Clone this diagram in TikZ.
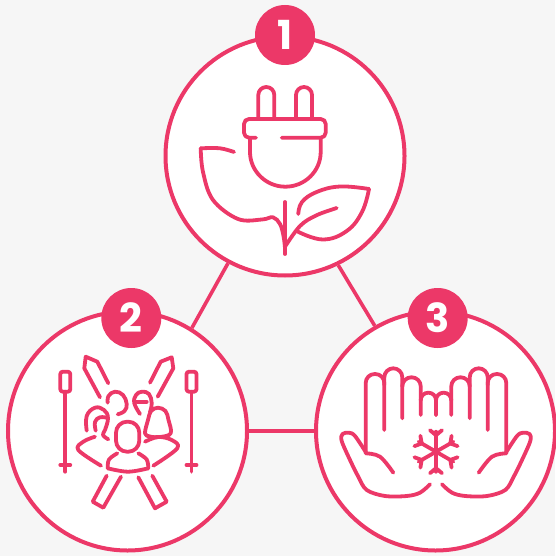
\documentclass[tikz,border=0pt]{standalone}
\usepackage{fontspec}
\newfontfamily\digitfont{Poppins}
\usepackage{tikz}
\definecolor{rosered}{HTML}{EC3868}
\definecolor{pagegray}{HTML}{F6F6F6}
\tikzset{bigdisc/.style = {circle, draw=rosered, fill=white, line width=4pt, minimum size=239pt, inner sep=0pt},
  badge/.style = {circle, fill=rosered, text=white, minimum size=60pt, inner sep=0pt, font=\digitfont\bfseries\fontsize{40}{40}\selectfont},
  link/.style = {draw=rosered, line width=3.6pt},
  icon/.style = {draw=rosered, line width=3.8pt, line cap=round, line join=round}}

\begin{document}
\begin{tikzpicture}[x=1pt, y=-1pt]
      \fill[pagegray] (0,0) rectangle (555,556);
      \useasboundingbox (0,0) rectangle (555,556);
      \node[bigdisc] (one) at (285,156) {};
      \node[bigdisc] (two) at (127.5,431) {};
      \node[bigdisc] (three) at (435.5,431) {};
      \path[link] (one.242) -- (two.58);
      \path[link] (one.296) -- (three.120);
      \path[link] (two.east) -- (three.west);
      \node[badge] (badgeone) at (285,35) {1};
      \node[badge] (badgetwo) at (131.3,318) {2};
      \node[badge] (badgethree) at (437.7,318) {3};
      % plug and leaf
      \begin{scope}[icon]
        \foreach \x in {258.3,296} {
          \draw[rounded corners=8pt] (\x,118) -- (\x,87) -- (\x+16,87) -- (\x+16,118);
        }
        \draw[rounded corners=5pt] (256,137.7) -- (244,137.7) -- (244,119) -- (325.7,119) -- (325.7,137.7) -- (281.7,137.7);
        \draw (250,138) -- (250,152) .. controls (250,171) and (266,186.7) .. (285.3,186.7) .. controls (305,186.7) and (320.7,171) .. (320.7,152) -- (320.7,138);
        \draw [smooth, tension=.6]
        plot coordinates{(234,152) (220,148.3) (200.7,148.3)};
        \draw [smooth, tension=.6]
        plot coordinates{(200.7,148.3) (203,172) (213,200) (238,219) (262,219.5) (273,217.3) (280,224) (283.5,236) (285,248)};
        \draw (285,202) -- (285,254);
        \draw [smooth, tension=.7]
        plot coordinates{(298.3,214) (302,202) (316.7,192) (340,186.5) (369,189)};
        \draw [smooth, tension=.7]
        plot coordinates{(369,189) (362,212) (346.7,231) (323,239.5) (298,231.7)};
        \draw [smooth, tension=.6]
        plot coordinates{(285,246.7) (300,226) (316,215.5) (336.7,208)};
      \end{scope}
      % skis and poles
      \begin{scope}[icon]
        \foreach \x in {65.3,191.5} {
          \draw[rounded corners=2.5pt] (\x-5,371.7) rectangle (\x+5,391.7);
          \draw (\x,391.7) -- (\x,471.7);
          \draw (\x-5,465) -- (\x+5,465);
        }
        \draw (108.3,383.3) -- (97.3,361.7) -- (85.7,356.7) -- (84.3,368.3) -- (100,397.3);
        \draw (150,382.7) -- (160.7,361.7) -- (171.7,357.3) -- (173.3,368.3) -- (157.7,396.7);
        \draw (106.7,475.7) -- (92.7,501.7) -- (103.3,507.7) -- (121,476.7);
        \draw (138.3,477.3) -- (155,508.3) -- (166.7,501.7) -- (152.3,475.7);
        % back row
        \draw [smooth, tension=.7]
        plot coordinates{(107.7,402.7) (108.5,396) (115,391.7) (123,395) (126.7,404) (124.5,411) (117.7,414.3)};
        \draw [smooth, tension=.7]
        plot coordinates{(140,414) (134.3,403.3) (136,395) (142,391.7) (149,394) (151.7,403) (150,412)};
        \draw (136.7,401.7) -- (146.7,401.7);
        % left woman
        \draw [smooth, tension=.7]
        plot coordinates{(86.7,430.7) (86.7,416) (95,407.7) (104,410) (108,418) (105,430) (103,435) (108.3,439.3)};
        \draw [smooth, tension=.7]
        plot coordinates{(95.7,430.7) (95,422) (100,417.3) (108,418)};
        \draw [smooth, tension=.6]
        plot coordinates{(95,436.7) (83.3,441.7) (78.3,450) (101,465.7)};
        % right woman
        \draw [smooth cycle, tension=.6]
        plot coordinates{(145,433.3) (148,420) (151,411) (158,407.7) (165.5,411) (168.5,420) (170.7,433.3) (160,437) (150,436.5)};
        \draw [smooth, tension=.6]
        plot coordinates{(145,441.7) (158,437) (171.7,440) (177.3,448.3) (153.3,465.7)};
        % front person
        \draw[rounded corners=11pt] (116,421.7) rectangle (139.3,451.7);
        \draw [smooth, tension=.6]
        plot coordinates{(117.3,453.3) (109,459.5) (107.7,468.3)};
        \draw [smooth, tension=.6]
        plot coordinates{(107.7,468.3) (128,471.7) (148.3,468.3)};
        \draw [smooth, tension=.6]
        plot coordinates{(148.3,468.3) (146.7,459.5) (138.3,453.3)};
      \end{scope}
      % hands and snowflake
      \foreach \s/\d in {1/0,-1/872} {
        \begin{scope}[icon, xshift=\d pt, xscale=\s]
          \draw[rounded corners=9pt] (365.7,453.3) -- (365.7,374) -- (384.3,374) -- (384.3,430);
          \draw[rounded corners=9pt] (384.3,385) -- (384.3,368.3) -- (402.3,368.3) -- (402.3,418.3);
          \draw[rounded corners=9pt] (402.3,386) -- (402.3,377.3) -- (420.7,377.3) -- (420.7,415);
          \draw[rounded corners=7.5pt] (420.7,400) -- (420.7,392.7) -- (436,392.7) -- (436,415);
          \draw [smooth, tension=.55]
          plot coordinates{(365.7,452) (355,436) (349,432.7) (342.5,434) (341.7,441) (350,460) (358.3,476.7) (366.7,490) (385,496) (406.7,496) (420,492.7) (430,484.3)};
          \draw [smooth, tension=.6]
          plot coordinates{(365.7,453.3) (380,456.7) (393.3,472.7)};
        \end{scope}
      }
      \begin{scope}[icon, shift={(436,451.7)}]
        \foreach \a in {0,60,...,300} {
          \begin{scope}[rotate=\a]
            \draw (0,0) -- (0,-20);
            \draw (-6,-21.5) -- (0,-16.5) -- (6,-21.5);
          \end{scope}
        }
      \end{scope}
    \end{tikzpicture}
\end{document}
